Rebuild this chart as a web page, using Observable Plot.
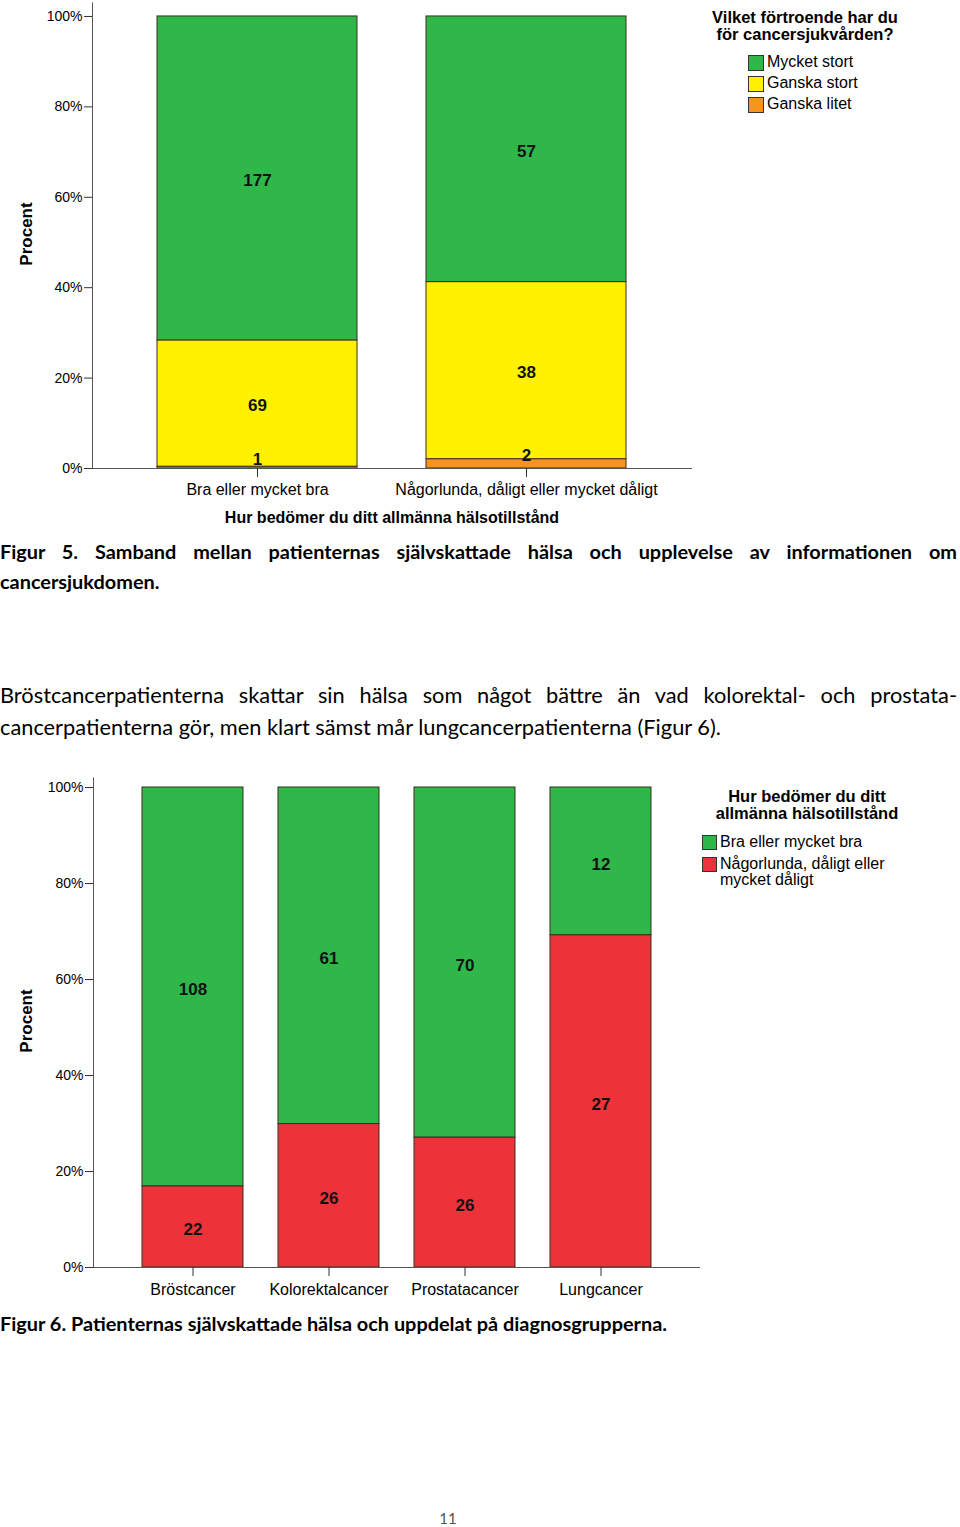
<!DOCTYPE html>
<html><head><meta charset="utf-8">
<script src="https://cdn.jsdelivr.net/npm/d3@7"></script>
<script src="https://cdn.jsdelivr.net/npm/@observablehq/plot@0.6"></script>
<style>
body{margin:0;background:#fff;width:960px;height:1527px;position:relative;overflow:hidden;}
.abs{position:absolute;}
.cf{font-family:"Liberation Sans",Arial,sans-serif;color:#000;}
.doc{font-family:Lato,"Noto Sans",sans-serif;color:#000;}
.sw{position:absolute;width:14px;height:14px;border:1px solid #333;box-sizing:border-box;}
.lt{position:absolute;font-size:16px;line-height:16px;white-space:nowrap;}
</style></head><body>
<div id="c1" class="abs" style="left:0;top:0"></div>
<div id="c2" class="abs" style="left:0;top:770px"></div>

<!-- chart 1 texts -->
<div class="abs cf" style="left:18px;top:234px;width:0;height:0;">
  <div style="position:absolute;transform:translate(-50%,-50%) rotate(-90deg);font-weight:bold;font-size:17px;white-space:nowrap;left:9px;">Procent</div>
</div>
<div class="abs cf" style="left:92px;width:600px;top:508px;text-align:center;font-weight:bold;font-size:16px;line-height:20px;">Hur bedömer du ditt allmänna hälsotillstånd</div>
<div class="abs cf" style="left:700px;width:210px;top:9px;text-align:center;font-weight:bold;font-size:16.5px;line-height:17px;">Vilket förtroende har du<br>för cancersjukvården?</div>
<div id="leg1" class="abs cf" style="left:0;top:0;"></div>

<!-- caption 5 -->
<div class="abs doc" style="left:0;top:536px;width:957px;font-weight:bold;font-size:19.9px;line-height:30px;text-align:justify;text-align-last:justify;white-space:nowrap;">Figur&nbsp;5. Samband mellan patienternas självskattade hälsa och upplevelse av informationen om</div>
<div class="abs doc" style="left:0;top:566px;font-weight:bold;font-size:19.9px;line-height:30px;">cancersjukdomen.</div>

<!-- paragraph -->
<div class="abs doc" style="left:0;top:679px;width:957px;font-size:21.8px;line-height:32px;text-align:justify;text-align-last:justify;white-space:nowrap;">Bröstcancerpatienterna skattar sin hälsa som något bättre än vad kolorektal- och prostata-</div>
<div class="abs doc" style="left:0;top:711px;font-size:21.8px;line-height:32px;white-space:nowrap;">cancerpatienterna gör, men klart sämst mår lungcancerpatienterna (Figur 6).</div>

<!-- chart 2 texts -->
<div class="abs cf" style="left:18px;top:1021px;width:0;height:0;">
  <div style="position:absolute;transform:translate(-50%,-50%) rotate(-90deg);font-weight:bold;font-size:17px;white-space:nowrap;left:9px;">Procent</div>
</div>
<div class="abs cf" style="left:702px;width:210px;top:788px;text-align:center;font-weight:bold;font-size:16.5px;line-height:17px;">Hur bedömer du ditt<br>allmänna hälsotillstånd</div>
<div id="leg2" class="abs cf" style="left:0;top:0;"></div>

<!-- caption 6 -->
<div class="abs doc" style="left:0;top:1308px;font-weight:bold;font-size:19.9px;line-height:30px;white-space:nowrap;">Figur 6. Patienternas självskattade hälsa och uppdelat på diagnosgrupperna.</div>

<div class="abs doc" style="left:0;width:896px;top:1508px;text-align:center;font-size:15px;line-height:20px;color:#555;">11</div>

<script>
// ---------- Figure 5 data ----------
const healthCats = ["Bra eller mycket bra", "Någorlunda, dåligt eller mycket dåligt"];
const trustCats = ["Ganska litet", "Ganska stort", "Mycket stort"]; // bottom -> top
const ganskaLitet = [1, 2];
const ganskaStort = [69, 38];
const mycketStort = [177, 57];
const trustColors = ["#f7941d", "#fff100", "#2fb74a"];
const trustLegend = ["Mycket stort", "Ganska stort", "Ganska litet"];

// ---------- Figure 6 data ----------
const diagnoses = ["Bröstcancer", "Kolorektalcancer", "Prostatacancer", "Lungcancer"];
const healthGroups = ["Någorlunda, dåligt eller mycket dåligt", "Bra eller mycket bra"]; // bottom -> top
const poorHealth = [22, 26, 26, 27];
const goodHealth = [108, 61, 70, 12];
const healthColors = ["#ee3239", "#2fb74a"];
const healthLegend = ["Bra eller mycket bra", "Någorlunda, dåligt eller\nmycket dåligt"];

const yTicks = [0, 0.2, 0.4, 0.6, 0.8, 1];

const rows1 = [];
[ganskaLitet, ganskaStort, mycketStort].forEach((vals, i) =>
  healthCats.forEach((h, j) => rows1.push({health: h, cat: trustCats[i], count: vals[j]})));

const rows2 = [];
[poorHealth, goodHealth].forEach((vals, i) =>
  diagnoses.forEach((d, j) => rows2.push({diag: d, cat: healthGroups[i], count: vals[j]})));

const baseStyle = {fontFamily: "'Liberation Sans', Arial, sans-serif", fontSize: "14px", color: "#000", background: "transparent", overflow: "visible"};

const p1 = Plot.plot({
  width: 700, height: 500, marginTop: 2.4, marginBottom: 32, marginLeft: 92, marginRight: 8,
  style: baseStyle,
  x: {domain: healthCats, paddingInner: 0.256, paddingOuter: 0.241, label: null},
  y: {domain: [0, 1.03], label: null},
  color: {domain: trustCats, range: trustColors},
  marks: [
    Plot.barY(rows1, Plot.stackY({x: "health", y: "count", fill: "cat", z: "cat", offset: "normalize", stroke: "#3b2f22", strokeWidth: 1})),
    Plot.text(rows1, Plot.stackY({x: "health", y: "count", z: "cat", offset: "normalize",
      text: d => d.cat === "Ganska litet" ? null : d.count, fontWeight: "bold", fontSize: 17, fill: "#111", dy: 2})),
    Plot.text(rows1, Plot.stackY({x: "health", y: "count", z: "cat", offset: "normalize",
      text: d => d.cat === "Ganska litet" ? d.count : null, fontWeight: "bold", fontSize: 17, fill: "#111", dy: -8})),
    Plot.frame({anchor: "left", stroke: "#555"}),
    Plot.ruleY([0], {stroke: "#555"}),
    Plot.axisY({ticks: yTicks, tickFormat: d3.format(".0%"), tickSize: 8, tickPadding: 2, fontSize: 14, stroke: "#333", label: null}),
    Plot.axisX({tickSize: 9, tickPadding: 6, fontSize: 16, stroke: "#333", label: null})
  ]
});
document.getElementById("c1").appendChild(p1);

const p2 = Plot.plot({
  width: 710, height: 540, marginTop: 7.4, marginBottom: 43, marginLeft: 93, marginRight: 10,
  style: baseStyle,
  x: {domain: diagnoses, paddingInner: 0.254, paddingOuter: 0.358, label: null},
  y: {domain: [0, 1.02], label: null},
  color: {domain: healthGroups, range: healthColors},
  marks: [
    Plot.barY(rows2, Plot.stackY({x: "diag", y: "count", fill: "cat", z: "cat", offset: "normalize", stroke: "#3b2f22", strokeWidth: 1})),
    Plot.text(rows2, Plot.stackY({x: "diag", y: "count", z: "cat", offset: "normalize",
      text: "count", fontWeight: "bold", fontSize: 17, fill: "#111", dy: 3})),
    Plot.frame({anchor: "left", stroke: "#555"}),
    Plot.ruleY([0], {stroke: "#555"}),
    Plot.axisY({ticks: yTicks, tickFormat: d3.format(".0%"), tickSize: 8, tickPadding: 2, fontSize: 14, stroke: "#333", label: null}),
    Plot.axisX({tickSize: 9, tickPadding: 7, fontSize: 16, stroke: "#333", label: null})
  ]
});
document.getElementById("c2").appendChild(p2);

// legends
function legend(el, labels, colorFor, x, y0, rowH, lineH, sw) {
  let y = y0;
  labels.forEach(l => {
    const s = document.createElement("div");
    s.className = "sw";
    s.style.cssText = `left:${x}px;top:${y}px;width:${sw}px;height:${sw}px;background:${colorFor(l)};`;
    el.appendChild(s);
    const t = document.createElement("div");
    t.className = "lt";
    t.style.cssText = `left:${x + sw + 3}px;top:${y - 1}px;line-height:${lineH}px;`;
    t.innerHTML = l.replace("\n", "<br>");
    el.appendChild(t);
    y += rowH + lineH * (l.split("\n").length - 1);
  });
}
const c1 = d3.scaleOrdinal(trustCats, trustColors);
legend(document.getElementById("leg1"), trustLegend, l => c1(l), 748, 55, 21, 16, 16);
const c2 = d3.scaleOrdinal(healthGroups, healthColors);
legend(document.getElementById("leg2"), healthLegend, l => c2(l.replace("\n", " ")), 702, 835, 22, 16, 15);
</script>
</body></html>
